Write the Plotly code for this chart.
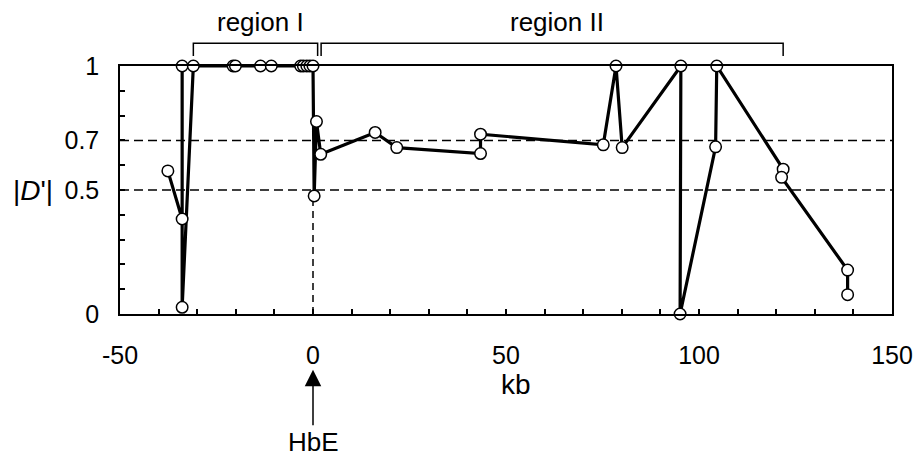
import plotly.graph_objects as go

# Marker positions (kb from HbE) and |D'| values, in the order the line joins them
kb = [-37.6, -33.9, -33.9, -33.9, -31.0, -20.7, -20.1, -13.6, -10.8,
      -3.2, -2.5, -1.6, -0.8, 0.0, 0.3, 0.9, 2.0, 16.1, 21.7, 43.4, 43.4,
      75.2, 78.5, 80.1, 95.3, 95.1, 104.3, 104.6, 121.8, 121.4, 138.5, 138.5]
d_prime = [0.577, 0.383, 1.0, 0.027, 1.0, 1.0, 1.0, 1.0, 1.0,
           1.0, 1.0, 1.0, 1.0, 1.0, 0.476, 0.776, 0.644, 0.732, 0.671, 0.647, 0.725,
           0.682, 1.0, 0.671, 1.0, 0.0, 0.674, 1.0, 0.584, 0.551, 0.177, 0.078]

y_tick_vals = [0, 0.1, 0.2, 0.3, 0.4, 0.5, 0.6, 0.7, 0.8, 0.9, 1.0]
y_tick_text = ["0", "", "", "", "", "0.5", "", "0.7", "", "", "1"]
x_tick_vals = list(range(-50, 151, 10))
x_tick_text = [str(v) if v % 50 == 0 else "" for v in x_tick_vals]

ref_levels = [0.7, 0.5]
region_names = ["region I", "region II"]
region_starts = [-31.0, 2.1]
region_ends = [1.2, 121.8]
hbe_pos = 0.0
hbe_low = 0.476

FONT = "Liberation Sans, Arial, sans-serif"

fig = go.Figure()
fig.add_trace(go.Scatter(
    x=kb, y=d_prime, mode="lines+markers",
    line=dict(color="black", width=3.2),
    marker=dict(size=11.5, color="white", line=dict(color="black", width=1.5)),
    cliponaxis=False, showlegend=False,
))

shapes = []
for lv in ref_levels:
    shapes.append(dict(type="line", xref="paper", yref="y", x0=0, x1=1, y0=lv, y1=lv,
                       line=dict(color="black", width=1.5, dash="9px,5px"), layer="below"))
shapes.append(dict(type="line", xref="x", yref="y", x0=hbe_pos, x1=hbe_pos, y0=0, y1=hbe_low,
                   line=dict(color="black", width=1.5, dash="7px,5px"), layer="below"))

annotations = []
for name, s, e in zip(region_names, region_starts, region_ends):
    shapes.append(dict(type="path", xref="x", yref="paper",
                       path=f"M {s},1.040 L {s},1.0915 L {e},1.0915 L {e},1.040",
                       line=dict(color="black", width=1.5)))
    annotations.append(dict(x=(s + e) / 2, y=1.177, xref="x", yref="paper", text=name,
                            showarrow=False, yanchor="middle", xshift=5,
                            font=dict(family=FONT, size=26, color="black")))

annotations.append(dict(x=0, y=0.5, xref="paper", yref="paper", xshift=-87,
                        text="|<i>D</i>'|", showarrow=False, xanchor="center", yanchor="middle",
                        font=dict(family=FONT, size=28, color="black")))
annotations.append(dict(x=0.513, y=-0.286, xref="paper", yref="paper", text="kb",
                        showarrow=False, yanchor="middle",
                        font=dict(family=FONT, size=28, color="black")))
annotations.append(dict(x=hbe_pos, y=-0.225, xref="x", yref="paper", text="HbE",
                        showarrow=True, ax=0, ay=72, arrowhead=2, arrowsize=2.2,
                        arrowwidth=1.5, arrowcolor="black",
                        font=dict(family=FONT, size=26, color="black")))

fig.update_layout(
    width=913, height=459,
    margin=dict(l=120, r=21, t=66, b=145, autoexpand=False),
    paper_bgcolor="white", plot_bgcolor="white",
    shapes=shapes, annotations=annotations,
    font=dict(family=FONT, size=25, color="black"),
    xaxis=dict(range=[-50, 150], tickmode="array", tickvals=x_tick_vals, ticktext=x_tick_text,
               ticks="inside", ticklen=5, tickwidth=1.5, tickcolor="black",
               showline=True, linecolor="black", linewidth=1.5, mirror=True, automargin=False,
               showgrid=False, zeroline=False, ticklabelstandoff=18,
               tickfont=dict(family=FONT, size=25, color="black")),
    yaxis=dict(range=[0, 1], tickmode="array", tickvals=y_tick_vals, ticktext=y_tick_text,
               ticks="inside", ticklen=5, tickwidth=1.5, tickcolor="black",
               showline=True, linecolor="black", linewidth=1.5, mirror=True, automargin=False,
               showgrid=False, zeroline=False, ticklabelstandoff=14,
               tickfont=dict(family=FONT, size=25, color="black")),
)

fig.write_html(
    "out.html",
    config={"displayModeBar": False},
    post_script="document.body.style.margin='0';document.body.style.padding='0';"
                "document.body.style.overflow='hidden';",
)
